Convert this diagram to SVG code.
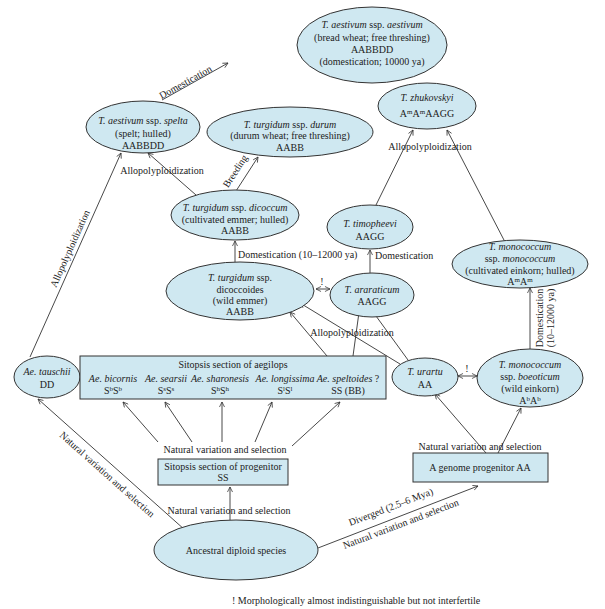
<svg xmlns="http://www.w3.org/2000/svg" width="605" height="609" viewBox="0 0 605 609">
<defs>
<marker id="ar" viewBox="0 0 10 10" refX="9" refY="5" markerWidth="7" markerHeight="7" orient="auto-start-reverse"><path d="M1,1 L9,5 L1,9" fill="none" stroke="#333" stroke-width="1.2"/></marker>
</defs>
<style>
text{font-family:"Liberation Serif",serif;font-size:10px;fill:#222;text-anchor:middle}
.i{font-style:italic}
.n ellipse,.n rect{fill:#cfe8f1;stroke:#333;stroke-width:1}
.e line{stroke:#333;stroke-width:0.9;marker-end:url(#ar)}
.e .d{marker-start:url(#ar)}
.s{font-size:7px}
</style>
<rect width="605" height="609" fill="#fff"/>
<g class="e">
<line x1="162" y1="100" x2="228" y2="63"/>
<line x1="196" y1="195" x2="148" y2="153"/>
<line x1="236" y1="191" x2="258" y2="157"/>
<line x1="30" y1="357" x2="121" y2="153"/>
<line x1="235" y1="262" x2="235" y2="241"/>
<line class="d" x1="316" y1="289" x2="330" y2="289"/>
<line x1="370" y1="273" x2="370" y2="250"/>
<line x1="376" y1="205" x2="413" y2="130"/>
<line x1="505" y1="242" x2="447" y2="130"/>
<line x1="530" y1="349" x2="530" y2="288"/>
<line class="d" x1="458" y1="376" x2="477" y2="376"/>
<line x1="486" y1="453" x2="435" y2="394"/>
<line x1="498" y1="453" x2="521" y2="408"/>
<line x1="318" y1="548" x2="478" y2="486"/>
<line x1="230" y1="520" x2="230" y2="487"/>
<line x1="185" y1="530" x2="38" y2="399"/>
<line x1="158" y1="442" x2="123" y2="402"/>
<line x1="192" y1="442" x2="165" y2="402"/>
<line x1="222" y1="442" x2="222" y2="402"/>
<line x1="255" y1="442" x2="272" y2="402"/>
<line x1="292" y1="446" x2="340" y2="402"/>
<line x1="327" y1="356" x2="290" y2="312"/>
<line x1="353" y1="356" x2="360" y2="305"/>
<line x1="400" y1="364" x2="300" y2="303"/>
<line x1="408" y1="360" x2="368" y2="305"/>
</g>
<g id="aestivum" class="n"><ellipse cx="372" cy="45" rx="75" ry="38"/>
<text x="372" y="28"><tspan class="i">T. aestivum</tspan> ssp. <tspan class="i">aestivum</tspan></text>
<text x="372" y="41">(bread wheat; free threshing)</text>
<text x="372" y="53">AABBDD</text>
<text x="372" y="65">(domestication; 10000 ya)</text></g>
<g id="spelta" class="n"><ellipse cx="143" cy="127" rx="57" ry="26"/>
<text x="143" y="124"><tspan class="i">T. aestivum</tspan> ssp. <tspan class="i">spelta</tspan></text>
<text x="143" y="137">(spelt; hulled)</text><text x="143" y="149">AABBDD</text></g>
<g id="durum" class="n"><ellipse cx="290" cy="132" rx="83" ry="25"/>
<text x="290" y="128"><tspan class="i">T. turgidum</tspan> ssp. <tspan class="i">durum</tspan></text>
<text x="290" y="139">(durum wheat; free threshing)</text><text x="290" y="151">AABB</text></g>
<g id="dicoccum" class="n"><ellipse cx="235" cy="215" rx="64" ry="25"/>
<text x="235" y="211"><tspan class="i">T. turgidum</tspan> ssp. <tspan class="i">dicoccum</tspan></text>
<text x="235" y="223">(cultivated emmer; hulled)</text><text x="235" y="234">AABB</text></g>
<g id="dicoccoides" class="n"><ellipse cx="240" cy="291" rx="74" ry="29"/>
<text x="240" y="281"><tspan class="i">T. turgidum</tspan> ssp.</text>
<text x="240" y="293">dicoccoides</text><text x="240" y="304">(wild emmer)</text><text x="240" y="315">AABB</text></g>
<g id="araraticum" class="n"><ellipse cx="372" cy="295" rx="42" ry="22"/>
<text x="372" y="293" class="i">T. araraticum</text><text x="372" y="305">AAGG</text></g>
<g id="timopheevi" class="n"><ellipse cx="370" cy="227" rx="43" ry="22"/>
<text x="370" y="227" class="i">T. timopheevi</text><text x="370" y="240">AAGG</text></g>
<g id="zhukovskyi" class="n"><ellipse cx="427" cy="106" rx="49" ry="23"/>
<text x="427" y="101" class="i">T. zhukovskyi</text><text x="427" y="117">A<tspan class="s" dy="-3">m</tspan><tspan dy="3">A</tspan><tspan class="s" dy="-3">m</tspan><tspan dy="3">AAGG</tspan></text></g>
<g id="monococcum" class="n"><ellipse cx="520" cy="264" rx="68" ry="24"/>
<text x="520" y="250" class="i">T. monococcum</text>
<text x="520" y="262">ssp. <tspan class="i">monococcum</tspan></text>
<text x="520" y="274">(cultivated einkorn; hulled)</text>
<text x="520" y="285">A<tspan class="s" dy="-3">m</tspan><tspan dy="3">A</tspan><tspan class="s" dy="-3">m</tspan></text></g>
<g id="boeoticum" class="n"><ellipse cx="530" cy="378" rx="53" ry="29"/>
<text x="530" y="368" class="i">T. monococcum</text>
<text x="530" y="380">ssp. <tspan class="i">boeoticum</tspan></text>
<text x="530" y="392">(wild einkorn)</text>
<text x="530" y="404">A<tspan class="s" dy="-3">b</tspan><tspan dy="3">A</tspan><tspan class="s" dy="-3">b</tspan></text></g>
<g id="urartu" class="n"><ellipse cx="425" cy="377" rx="33" ry="19"/>
<text x="425" y="375" class="i">T. urartu</text><text x="425" y="388">AA</text></g>
<g id="tauschii" class="n"><ellipse cx="47" cy="377" rx="33" ry="21"/>
<text x="47" y="375" class="i">Ae. tauschii</text><text x="47" y="388">DD</text></g>
<g id="aegilops" class="n"><rect x="80" y="356" width="306" height="43"/>
<text x="233" y="368">Sitopsis section of aegilops</text>
<text x="113" y="382" class="i">Ae. bicornis</text>
<text x="113" y="394">S<tspan class="s" dy="-3">b</tspan><tspan dy="3">S</tspan><tspan class="s" dy="-3">b</tspan></text>
<text x="166" y="382" class="i">Ae. searsii</text>
<text x="166" y="394">S<tspan class="s" dy="-3">s</tspan><tspan dy="3">S</tspan><tspan class="s" dy="-3">s</tspan></text>
<text x="220" y="382" class="i">Ae. sharonesis</text>
<text x="220" y="394">S<tspan class="s" dy="-3">h</tspan><tspan dy="3">S</tspan><tspan class="s" dy="-3">h</tspan></text>
<text x="285" y="382" class="i">Ae. longissima</text>
<text x="285" y="394">S<tspan class="s" dy="-3">l</tspan><tspan dy="3">S</tspan><tspan class="s" dy="-3">l</tspan></text>
<text x="348" y="382"><tspan class="i">Ae. speltoides</tspan> ?</text>
<text x="348" y="394">SS (BB)</text></g>
<g id="sitopsisprog" class="n"><rect x="158" y="459" width="130" height="26"/>
<text x="223" y="470">Sitopsis section of progenitor</text><text x="223" y="481">SS</text></g>
<g id="aprog" class="n"><rect x="413" y="453" width="135" height="29"/>
<text x="480" y="471">A genome progenitor AA</text></g>
<g id="ancestral" class="n"><ellipse cx="236" cy="550" rx="82" ry="30"/>
<text x="236" y="554">Ancestral diploid species</text></g>
<g id="labels">
<text transform="translate(187,85) rotate(-29)">Domestication</text>
<text x="162" y="174">Allopolyploidization</text>
<text transform="translate(238,173) rotate(-57)">Breeding</text>
<text transform="translate(73,250) rotate(-66)">Allopolyploidization</text>
<text x="238" y="258" style="text-anchor:start">Domestication (10–12000 ya)</text>
<text x="322" y="285">!</text>
<text x="375" y="259" style="text-anchor:start">Domestication</text>
<text x="430" y="150">Allopolyploidization</text>
<text x="352" y="336">Allopolyploidization</text>
<text transform="translate(543,318) rotate(-90)">Domestication</text>
<text transform="translate(554,318) rotate(-90)">(10–12000 ya)</text>
<text x="467" y="372">!</text>
<text x="480" y="450">Natural variation and selection</text>
<text x="225" y="453">Natural variation and selection</text>
<text x="229" y="514">Natural variation and selection</text>
<text transform="translate(105,477) rotate(41.7)">Natural variation and selection</text>
<text transform="translate(392,510) rotate(-21)">Diverged (2.5–6 Mya)</text>
<text transform="translate(402,527) rotate(-21)">Natural variation and selection</text>
<text x="232" y="604" style="text-anchor:start">!  Morphologically almost indistinguishable but not interfertile</text>
</g>
</svg>
